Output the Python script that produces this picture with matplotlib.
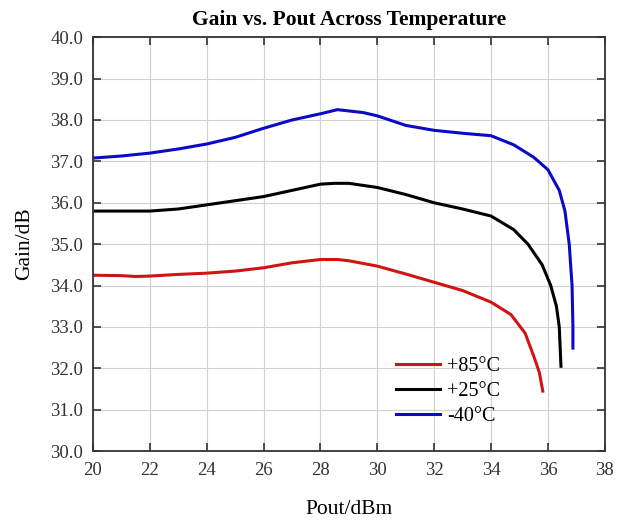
import matplotlib
matplotlib.use("Agg")
import matplotlib.pyplot as plt
import numpy as np

# data (Pout in dBm, Gain in dB)
pout_85 = [20, 21, 21.5, 22, 23, 24, 25, 26, 27, 28, 28.6, 29, 30, 31, 32, 33, 34, 34.7, 35.2, 35.5, 35.7, 35.82]
gain_85 = [34.25, 34.24, 34.22, 34.23, 34.27, 34.3, 34.35, 34.43, 34.55, 34.63, 34.63, 34.6, 34.47, 34.28, 34.08, 33.88, 33.6, 33.3, 32.85, 32.3, 31.9, 31.45]

pout_25 = [20, 21, 22, 23, 24, 25, 26, 27, 28, 28.5, 29, 30, 31, 32, 33, 34, 34.8, 35.3, 35.8, 36.1, 36.3, 36.4, 36.46]
gain_25 = [35.8, 35.8, 35.8, 35.85, 35.95, 36.05, 36.15, 36.3, 36.45, 36.47, 36.47, 36.37, 36.2, 36.0, 35.85, 35.68, 35.35, 35.0, 34.5, 34.0, 33.5, 33.0, 32.05]

pout_m40 = [20, 21, 22, 23, 24, 25, 26, 27, 28, 28.6, 29.5, 30, 31, 32, 33, 34, 34.8, 35.5, 36.0, 36.4, 36.6, 36.75, 36.85, 36.88, 36.88]
gain_m40 = [37.08, 37.13, 37.2, 37.3, 37.42, 37.58, 37.8, 38.0, 38.15, 38.25, 38.18, 38.1, 37.87, 37.75, 37.68, 37.62, 37.4, 37.1, 36.8, 36.3, 35.8, 35.0, 34.0, 33.0, 32.49]

labels = ["+85°C", "+25°C", "-40°C"]
colors = ["#d01414", "#000000", "#0a0ac8"]

plt.rcParams['font.family'] = ['Liberation Serif', 'DejaVu Serif']

fig = plt.figure(figsize=(6.28, 5.24), dpi=100)
ax = fig.add_axes([0.148, 0.139, 0.815, 0.790])

for x, y, lab, c in zip([pout_85, pout_25, pout_m40], [gain_85, gain_25, gain_m40], labels, colors):
    ax.plot(x, y, color=c, lw=2.2, label=lab)

ax.set_xlim(20, 38)
ax.set_ylim(30, 40)
ax.set_xticks(np.arange(20, 39, 2))
ax.set_yticks(np.arange(30, 40.1, 1))
ax.set_yticklabels(["%.1f" % v for v in np.arange(30, 40.1, 1)])
ax.grid(True, color="#d0d0d0", lw=0.8)
ax.tick_params(direction="in", length=6, width=1.2, top=True, right=True, labelsize=13.5, colors="#333333")
ax.tick_params(axis="x", pad=8)
ax.tick_params(axis="y", pad=7)
for s in ax.spines.values():
    s.set_linewidth(1.3)
    s.set_color("#333333")

ax.set_xlabel("Pout/dBm", fontsize=15.5, labelpad=15)
ax.set_ylabel("Gain/dB", fontsize=15.5, labelpad=12)
ax.set_title("Gain vs. Pout Across Temperature", fontsize=15.5, fontweight="bold", pad=9)

ax.legend(loc="upper left", bbox_to_anchor=(0.592, 0.228), frameon=False, fontsize=14.5,
          handlelength=2.2, labelspacing=0.3, borderpad=0, borderaxespad=0, handletextpad=0.35)

fig.savefig("out.png", dpi=100)
